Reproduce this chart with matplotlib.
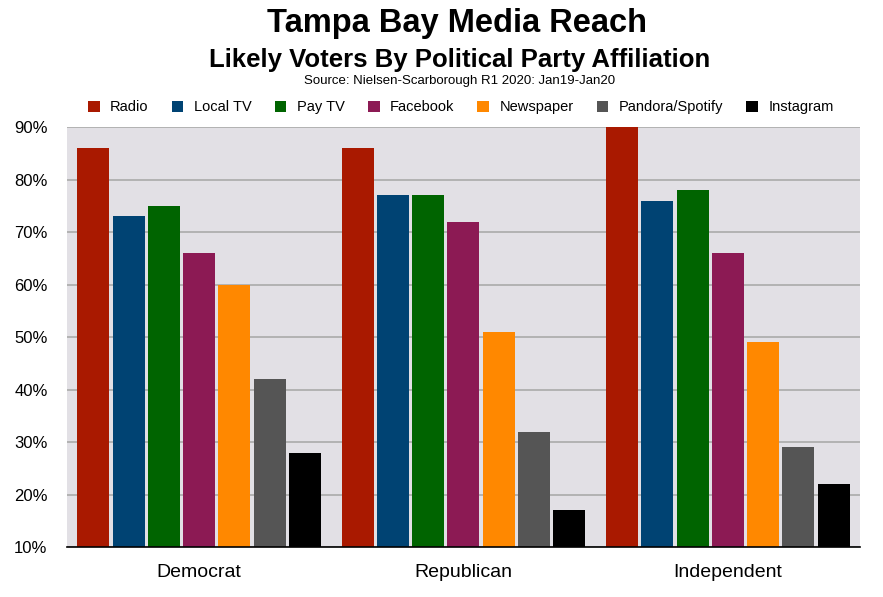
import numpy as np
import matplotlib.pyplot as plt
from matplotlib.patches import Patch

# Datos del gráfico
parties = ['Democrat', 'Republican', 'Independent']
media = ['Radio', 'Local TV', 'Pay TV', 'Facebook', 'Newspaper', 'Pandora/Spotify', 'Instagram']
colors = ['#A91900', '#004373', '#006400', '#8C1A54', '#FF8800', '#555555', '#000000']

radio = [86, 86, 90]
local_tv = [73, 77, 76]
pay_tv = [75, 77, 78]
facebook = [66, 72, 66]
newspaper = [60, 51, 49]
pandora = [42, 32, 29]
instagram = [28, 17, 22]

series = [radio, local_tv, pay_tv, facebook, newspaper, pandora, instagram]

plt.rcParams['font.family'] = ['Liberation Sans', 'DejaVu Sans']

fig = plt.figure(figsize=(8.83, 5.97), dpi=100)
ax = fig.add_axes([0.0759, 0.0838, 0.898, 0.703])
ax.set_facecolor('#E2E0E5')

x = np.arange(len(parties))
step = 0.1335
width = 0.121
base = 10
for i, (vals, c) in enumerate(zip(series, colors)):
    pos = x + (i - 3) * step
    ax.bar(pos, np.array(vals) - base, bottom=base, width=width, color=c, zorder=3)

ax.set_xlim(-0.5, 2.5)
ax.set_ylim(10, 90)
ax.set_yticks(range(10, 91, 10))
ax.set_yticklabels([f'{v}%' for v in range(10, 91, 10)], fontsize=12)
ax.set_xticks(x)
ax.set_xticklabels(parties, fontsize=14)
ax.tick_params(axis='both', length=0)
ax.tick_params(axis='x', pad=12)
ax.tick_params(axis='y', pad=14)
ax.grid(axis='y', color='#AAAAAA', linewidth=1.2, zorder=0)
for s in ['top', 'right', 'left']:
    ax.spines[s].set_visible(False)
ax.spines['bottom'].set_color('black')
ax.spines['bottom'].set_linewidth(1.2)
ax.spines['bottom'].set_zorder(4)

# Títulos
fig.text(0.518, 0.96, 'Tampa Bay Media Reach', ha='center', va='center', fontsize=23.5, fontweight='bold')
fig.text(0.52, 0.9, 'Likely Voters By Political Party Affiliation', ha='center', va='center', fontsize=18.5, fontweight='bold')
fig.text(0.52, 0.865, 'Source: Nielsen-Scarborough R1 2020: Jan19-Jan20', ha='center', va='center', fontsize=9.5)

handles = [Patch(facecolor=c, label=m) for m, c in zip(media, colors)]
fig.legend(handles=handles, loc='center', bbox_to_anchor=(0.522, 0.82), ncol=7, frameon=False,
           fontsize=10.5, handlelength=0.8, handleheight=0.8, columnspacing=1.6, handletextpad=0.7)

fig.savefig('out.png', dpi=100)
